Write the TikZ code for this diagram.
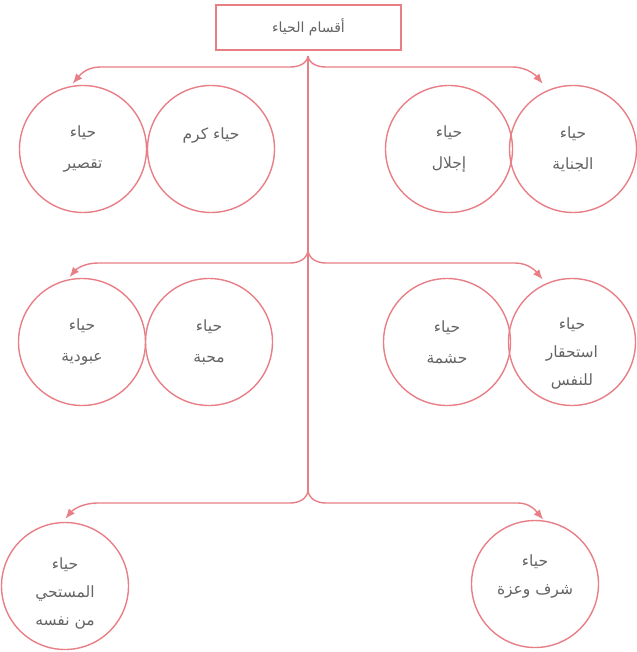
\documentclass[tikz,border=0pt]{standalone}
\usepackage{fontspec}
\newfontfamily\arabicfont[Script=Arabic]{DejaVu Sans}
\TeXXeTstate=1
\usetikzlibrary{arrows.meta}
\definecolor{linec}{RGB}{232,126,134}
\definecolor{txtc}{RGB}{100,100,100}
\newcommand\artxt[1]{\beginR #1\endR}
\begin{document}
\begin{tikzpicture}[x=1pt,y=1pt,
  circ/.style={circle,draw=linec,line width=1.4pt,minimum size=127pt,inner sep=0pt,
    align=center,text=txtc,font=\arabicfont\fontsize{15.5}{31}\selectfont},
  tight/.style={font=\arabicfont\fontsize{15.5}{28}\selectfont},
  titlebox/.style={draw=linec,line width=1.4pt,minimum width=185pt,minimum height=45pt,
    inner sep=0pt,text=txtc,font=\arabicfont\fontsize{14}{16}\selectfont},
  arr/.style={draw=linec,line width=1.4pt,-{Latex[length=10pt,width=8pt]}},
  trunk/.style={draw=linec,line width=1.4pt}]
\useasboundingbox (0,0) rectangle (636,-652);
% title
\node[titlebox] (t) at (308.5,-27.5) {\artxt{أقسام الحياء}};
% junctions
\coordinate (j1) at (308,-56);
\coordinate (j2) at (308,-251);
\coordinate (j3) at (308,-491);
% row 1
\node[circ] (c1) at (83,-149) {\artxt{حياء}\\\artxt{تقصير}};
\node[circ] (c2) at (211,-149) {\artxt{حياء كرم}\\\mbox{}};
\node[circ] (c3) at (449,-149) {\artxt{حياء}\\\artxt{إجلال}};
\node[circ] (c4) at (573,-149) {\artxt{حياء}\\\artxt{الجناية}};
% row 2
\node[circ] (c5) at (82,-342) {\artxt{حياء}\\\artxt{عبودية}};
\node[circ] (c6) at (209,-342) {\artxt{حياء}\\\artxt{محبة}};
\node[circ] (c7) at (447,-342) {\artxt{حياء}\\\artxt{حشمة}};
\node[circ,tight] (c8) at (572,-342) {\mbox{}\\[6pt]\artxt{حياء}\\\artxt{استحقار}\\\artxt{للنفس}};
% row 3
\node[circ,tight] (c9) at (65,-586) {\mbox{}\\[-2pt]\artxt{حياء}\\\artxt{المستحي}\\\artxt{من نفسه}};
\node[circ,tight] (c10) at (535,-584) {\artxt{حياء}\\\artxt{شرف وعزة}\\[-10pt]\mbox{}};
% trunk
\draw[trunk] (j1) -- (j3);
% branches
\draw[arr,shorten >=3pt] (j1) to[out=-100,in=0] (290,-67) -- (100,-67) to[out=180,in=50] (c1.101);
\draw[arr,shorten >=8pt] (j1) to[out=-80,in=180] (326,-67) -- (512,-67) to[out=0,in=130] (c4.113);
\draw[arr,shorten >=3pt] (j2) to[out=-100,in=0] (290,-263) -- (98,-263) to[out=180,in=50] (c5.103);
\draw[arr,shorten >=5pt] (j2) to[out=-80,in=180] (326,-263) -- (515,-263) to[out=0,in=130] (c8.114);
\draw[arr,shorten >=4pt] (j3) to[out=-100,in=0] (290,-503) -- (98,-503) to[out=180,in=50] (c9.92);
\draw[arr,shorten >=1pt] (j3) to[out=-80,in=180] (326,-503) -- (518,-503) to[out=0,in=130] (c10.82);
\end{tikzpicture}
\end{document}
